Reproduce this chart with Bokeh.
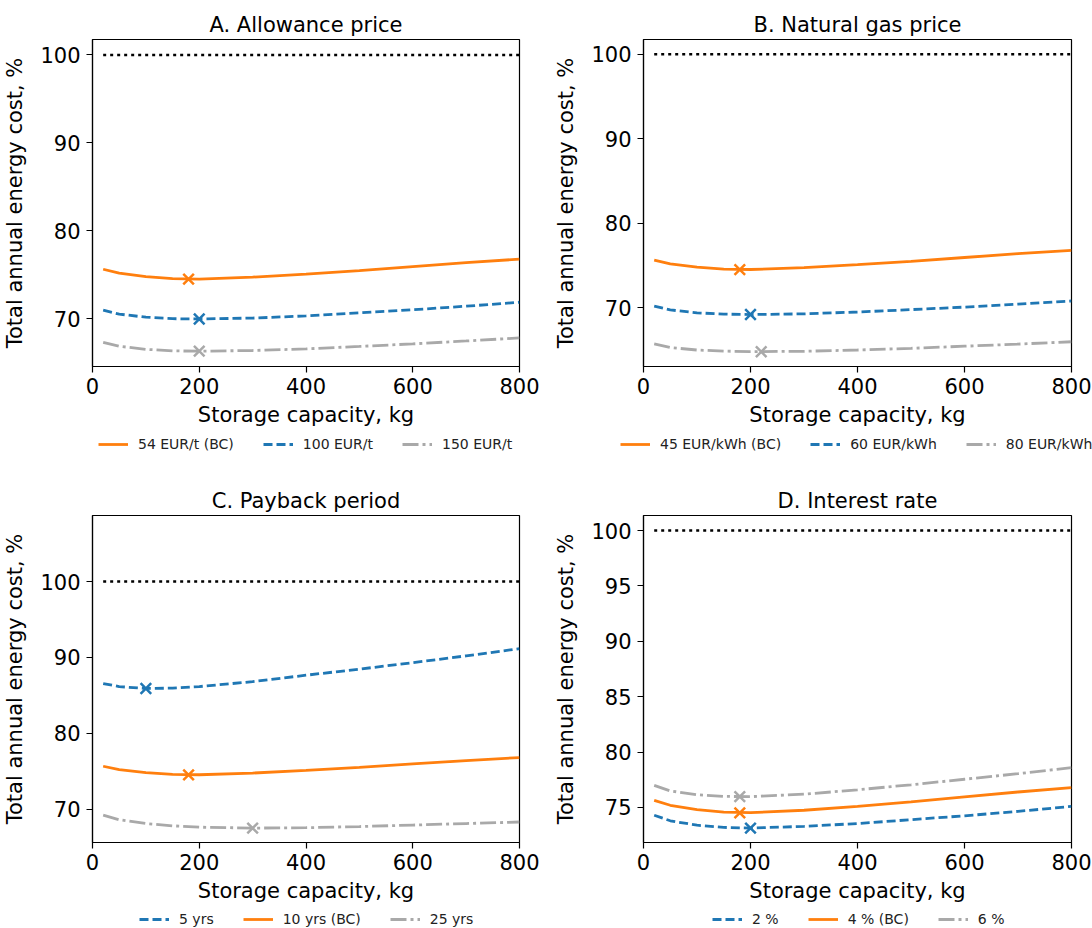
from bokeh.plotting import figure
from bokeh.models import Legend, LegendItem, FixedTicker, Range1d
from bokeh.layouts import column, row
from bokeh.embed import file_html
from bokeh.resources import INLINE

# ---------------- data ----------------
capacity = [20, 50, 100, 150, 200, 300, 400, 500, 600, 700, 800]
baseline_x = [20, 800]
baseline_y = [100, 100]

# base case (shared by all panels)
cost_bc = [75.65, 75.2, 74.8, 74.58, 74.53, 74.75, 75.1, 75.5, 75.95, 76.4, 76.8]

# A. Allowance price
allowance_100 = [71.0, 70.55, 70.2, 70.03, 70.0, 70.1, 70.35, 70.7, 71.05, 71.45, 71.9]
allowance_150 = [67.35, 66.9, 66.55, 66.38, 66.34, 66.42, 66.6, 66.88, 67.17, 67.5, 67.85]
allowance_labels = ["54 EUR/t (BC)", "100 EUR/t", "150 EUR/t"]
allowance_opt_x = [180, 200, 200]
allowance_opt_y = [74.52, 70.0, 66.34]

# B. Natural gas price
gas_60 = [70.2, 69.75, 69.4, 69.25, 69.2, 69.28, 69.5, 69.78, 70.08, 70.43, 70.8]
gas_80 = [65.74, 65.3, 65.0, 64.87, 64.81, 64.85, 65.0, 65.2, 65.45, 65.7, 65.98]
gas_labels = ["45 EUR/kWh (BC)", "60 EUR/kWh", "80 EUR/kWh"]
gas_opt_x = [180, 200, 220]
gas_opt_y = [74.52, 69.2, 64.8]

# C. Payback period
payback_5 = [86.55, 86.15, 85.9, 85.95, 86.15, 86.8, 87.65, 88.45, 89.3, 90.2, 91.15]
payback_25 = [69.2, 68.6, 68.1, 67.8, 67.62, 67.5, 67.55, 67.7, 67.9, 68.1, 68.3]
payback_labels = ["5 yrs", "10 yrs (BC)", "25 yrs"]
payback_opt_x = [100, 180, 300]
payback_opt_y = [85.9, 74.52, 67.5]

# D. Interest rate
interest_2 = [74.3, 73.8, 73.4, 73.2, 73.14, 73.3, 73.55, 73.9, 74.25, 74.65, 75.1]
interest_6 = [77.0, 76.5, 76.15, 76.0, 75.98, 76.2, 76.6, 77.05, 77.55, 78.05, 78.6]
interest_labels = ["2 %", "4 % (BC)", "6 %"]
interest_opt_x = [200, 180, 180]
interest_opt_y = [73.14, 74.52, 75.98]

x_ticks = [0, 200, 400, 600, 800]

# ---------------- styles ----------------
FONT = "DejaVu Sans"
FS = "21px"
ORANGE = "#ff7f0e"
BLUE = "#1f77b4"
GREY = "#a9a9a9"
STYLE_SOLID = dict(color=ORANGE, dash="solid")
STYLE_DASH = dict(color=BLUE, dash="9 4")
STYLE_DASHDOT = dict(color=GREY, dash="16 4 3 4")
LW = 2.8


def make_panel(title, series, opt_x, opt_y, y_range, y_ticks,
               width, height, b_left, b_right, b_top, b_bottom):
    p = figure(width=width, height=height, output_backend="svg",
               toolbar_location=None, tools="",
               x_range=Range1d(0, 800), y_range=Range1d(*y_range),
               min_border_left=b_left, min_border_right=b_right,
               min_border_top=b_top, min_border_bottom=b_bottom)
    p.title.text = title
    p.title.align = "center"
    p.title.text_font = FONT
    p.title.text_font_size = FS
    p.title.text_font_style = "normal"
    p.title.text_color = "black"
    p.title.standoff = 6
    p.grid.visible = False
    p.outline_line_color = "black"
    p.outline_line_width = 1.2
    p.outline_line_alpha = 1

    for ax in (p.xaxis[0], p.yaxis[0]):
        ax.major_label_text_font = FONT
        ax.major_label_text_font_size = FS
        ax.major_label_text_color = "black"
        ax.axis_label_text_font = FONT
        ax.axis_label_text_font_size = FS
        ax.axis_label_text_font_style = "normal"
        ax.axis_label_text_color = "black"
        ax.major_tick_out = 6
        ax.major_tick_in = 0
        ax.minor_tick_out = 0
        ax.minor_tick_in = 0
        ax.major_tick_line_color = "black"
        ax.major_tick_line_width = 1.2
        ax.axis_line_color = "black"
        ax.axis_line_width = 1.2
    p.xaxis.major_label_standoff = 5
    p.xaxis.axis_label_standoff = 6
    p.yaxis.major_label_standoff = 6
    p.yaxis.axis_label_standoff = 10
    p.xaxis.ticker = FixedTicker(ticks=x_ticks)
    p.yaxis.ticker = FixedTicker(ticks=y_ticks)
    p.xaxis.axis_label = "Storage capacity, kg"
    p.yaxis.axis_label = "Total annual energy cost, %"

    p.line(baseline_x, baseline_y, line_color="black", line_width=2.5,
           line_dash="3 4")

    for (label, values, style), ox, oy in zip(series, opt_x, opt_y):
        p.line(capacity, values, line_color=style["color"], line_width=LW,
               line_dash=style["dash"])
        p.scatter([ox], [oy], marker="x", size=15, line_color=style["color"],
                  line_width=2.5)
    return p


def make_legend_strip(width, height, groups):
    """groups: list of (series, x, y) -> one horizontal legend per panel"""
    lf = figure(width=width, height=height, output_backend="svg",
                toolbar_location=None, tools="",
                x_range=Range1d(0, 1), y_range=Range1d(0, 1),
                x_axis_type=None, y_axis_type=None,
                min_border_left=0, min_border_right=0,
                min_border_top=0, min_border_bottom=0)
    lf.grid.visible = False
    lf.outline_line_color = None
    for series, lx, ly in groups:
        items = []
        for label, values, style in series:
            # off-range proxy line: only its legend glyph is visible
            lr = lf.line([-10, -9], [-10, -10], line_color=style["color"],
                         line_width=LW, line_dash=style["dash"])
            items.append(LegendItem(label=label, renderers=[lr]))
        legend = Legend(items=items, orientation="horizontal",
                        location=(lx, ly),
                        glyph_width=30, glyph_height=16, label_height=16,
                        label_standoff=10, spacing=29, padding=0, margin=0,
                        border_line_color=None, background_fill_alpha=0,
                        label_text_font=FONT, label_text_font_size="14px",
                        label_text_color="#222222")
        lf.add_layout(legend, "center")
    return lf


series_A = [(allowance_labels[0], cost_bc, STYLE_SOLID),
            (allowance_labels[1], allowance_100, STYLE_DASH),
            (allowance_labels[2], allowance_150, STYLE_DASHDOT)]
series_B = [(gas_labels[0], cost_bc, STYLE_SOLID),
            (gas_labels[1], gas_60, STYLE_DASH),
            (gas_labels[2], gas_80, STYLE_DASHDOT)]
series_C = [(payback_labels[0], payback_5, STYLE_DASH),
            (payback_labels[1], cost_bc, STYLE_SOLID),
            (payback_labels[2], payback_25, STYLE_DASHDOT)]
series_D = [(interest_labels[0], interest_2, STYLE_DASH),
            (interest_labels[1], cost_bc, STYLE_SOLID),
            (interest_labels[2], interest_6, STYLE_DASHDOT)]

pA = make_panel("A. Allowance price", series_A,
                allowance_opt_x, allowance_opt_y,
                (64.6, 101.75), [70, 80, 90, 100],
                546, 435, 92, 27, 39, 69)
pB = make_panel("B. Natural gas price", series_B,
                gas_opt_x, gas_opt_y,
                (63.05, 101.75), [70, 80, 90, 100],
                546, 435, 97, 21, 39, 69)
pC = make_panel("C. Payback period", series_C,
                payback_opt_x, payback_opt_y,
                (65.6, 108.7), [70, 80, 90, 100],
                546, 447, 92, 27, 51, 69)
pD = make_panel("D. Interest rate", series_D,
                interest_opt_x, interest_opt_y,
                (71.84, 101.36), [75, 80, 85, 90, 95, 100],
                546, 447, 97, 21, 51, 69)

strip_top = make_legend_strip(1092, 29, [(series_A, 98, 12), (series_B, 620, 12)])
strip_bottom = make_legend_strip(1092, 17, [(series_C, 139, 1), (series_D, 712, 1)])

layout = column(row(pA, pB), strip_top, row(pC, pD), strip_bottom)

open("out.html", "w").write(file_html(layout, INLINE))
